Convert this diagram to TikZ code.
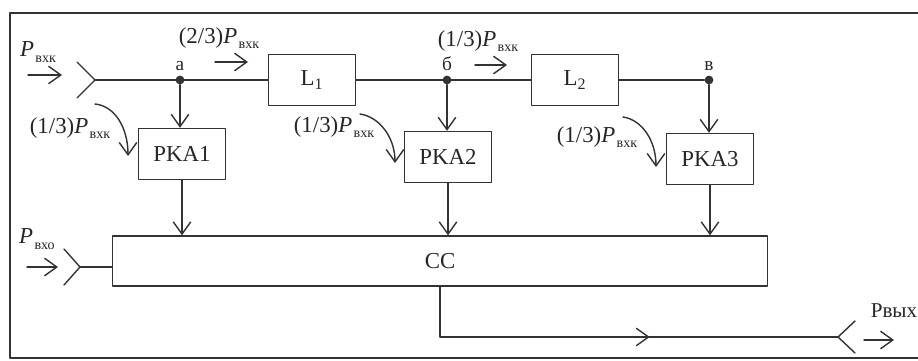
\documentclass[tikz,border=0pt]{standalone}
\usepackage{fontspec}
\setmainfont{Liberation Serif}
\usetikzlibrary{arrows.meta,decorations.markings,positioning}
\newcommand{\Pw}[1]{\textit{P}\kern0.8pt\raisebox{-0.5ex}{\fontsize{8}{9}\selectfont #1}}
\begin{document}
\begin{tikzpicture}[x=0.02cm,y=-0.02cm,line join=round,line cap=round,
	>={Straight Barb[length=7pt,width=10pt]},
	every node/.style={font=\fontsize{13}{15}\selectfont,text=black!85},
	ln/.style={draw=black!80,line width=0.8pt},
	blk/.style={ln,minimum width=17.4mm,minimum height=10.2mm,inner sep=0pt},
	dot/.style={circle,fill=black!80,inner sep=0pt,minimum size=5pt},
	lbl/.style={font=\fontsize{11}{13}\selectfont}]
	\useasboundingbox (0,0) rectangle (918,361);
	\draw[ln,line width=1.1pt] (930,13)--(10,13)--(10,358)--(930,358);
	
	\node[blk] (L1) at (312,80) {L\textsubscript{1}};
	\node[blk] (L2) at (575,80) {L\textsubscript{2}};
	\node[blk] (pka1) at (182,154) {PKA1};
	\node[blk] (pka2) at (448,157) {PKA2};
	\node[blk] (pka3) at (710,159) {PKA3};
	\node[ln,minimum width=131mm,minimum height=10mm,inner sep=0pt] (cc) at (440,261) {CC};
	
	\node[dot] (a) at (180,80) {};
	\node[dot] (b) at (447,80) {};
	\node[dot] (v) at (709,80) {};
	\node[lbl,above=-1pt of a] {а};
	\node[lbl,above=-1pt of b] {б};
	\node[lbl,above=-1pt of v] {в};
	
	\path 
	(95,80) coordinate (inA)
	(28,75) coordinate (inA1)
	(62,75) coordinate (inA2)
	(80,267) coordinate (inB)
	(27,267) coordinate (inB1)
	(58,267) coordinate (inB2)
	(838,337) coordinate (out)
	(864,340) coordinate (out1)
	(894,340) coordinate (out2)
	;
	\draw[ln] (77,62)--(inA)--(77,98);
	\draw[ln,->] (inA1)--(inA2);
	\draw[ln] (inA)--(L1.west);
	\draw[ln] (L1.east)--(L2.west);
	\draw[ln] (L2.east)--(v);
	\draw[ln,->] (a)--(a|-pka1.north);
	\draw[ln,->] (b)--(b|-pka2.north);
	\draw[ln,->] (v)--(v|-pka3.north);
	\draw[ln,->] (pka1.south)--(pka1.south|-cc.north);
	\draw[ln,->] (pka2.south)--(pka2.south|-cc.north);
	\draw[ln,->] (pka3.south)--(pka3.south|-cc.north);
	
	\draw[ln] (64,249)--(inB)--(64,285);
	\draw[ln,->] (inB1)--(inB2);
	\draw[ln] (inB)--(inB-|cc.west);
	
	\draw[ln,postaction={decorate},decoration={markings,mark=at position 0.58 with {\arrow{>}}}] (cc.south)|-(out);
	\draw[ln] (855,321)--(out)--(855,353);
	\draw[ln,->] (out1)--(out2);
	
	\draw[ln,->] (95,104) .. controls (115,106) and (128,128) .. (128,156);
	\draw[ln,->] (360,114) .. controls (380,117) and (395,138) .. (395,163);
	\draw[ln,->] (623,117) .. controls (643,120) and (656,142) .. (656,167);
	
	\node at (38,52) {\Pw{вхк}};
	\node at (219,38) {(2/3)\Pw{вхк}};
	\draw[ln,->] (215,62)--(248,62);
	\node at (478,41) {(1/3)\Pw{вхк}};
	\draw[ln,->] (475,65)--(507,65);
	\node at (70,128) {(1/3)\Pw{вхк}};
	\node at (334,127) {(1/3)\Pw{вхк}};
	\node at (597,137) {(1/3)\Pw{вхк}};
	\node at (37,239) {\Pw{вхо}};
	\node[font=\fontsize{12}{14}\selectfont] at (894,311) {Pвых};
\end{tikzpicture}
\end{document}
